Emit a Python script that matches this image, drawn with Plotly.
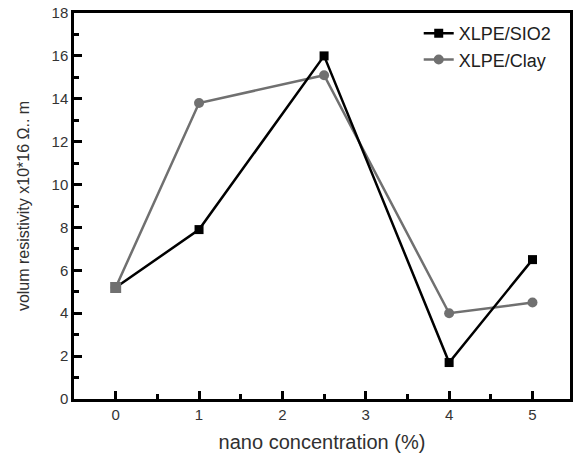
import plotly.graph_objects as go

x_vals = [0, 1, 2.5, 4, 5]
sio2 = [5.2, 7.9, 16.0, 1.7, 6.5]
clay = [5.2, 13.8, 15.1, 4.0, 4.5]
x_ticks = [0, 1, 2, 3, 4, 5]
y_ticks = [0, 2, 4, 6, 8, 10, 12, 14, 16, 18]

gray = "#707070"
font_family = "Liberation Sans, Arial"
fig = go.Figure()
fig.add_trace(go.Scatter(x=x_vals, y=clay, name="XLPE/Clay", mode="lines+markers",
                         line=dict(color=gray, width=2.5),
                         marker=dict(symbol="circle", size=10, color=gray)))
fig.add_trace(go.Scatter(x=x_vals, y=sio2, name="XLPE/SIO2", mode="lines+markers",
                         line=dict(color="black", width=2.5),
                         marker=dict(symbol="square", size=9, color="black")))
# shared starting point drawn in grey (overlapping markers)
fig.add_trace(go.Scatter(x=x_vals[:1], y=sio2[:1], mode="markers", showlegend=False,
                         marker=dict(symbol="square", size=11, color=gray)))

axis_common = dict(showgrid=False, zeroline=False, showline=True, linecolor="black",
                   linewidth=2.5, mirror=True, ticks="inside", tickwidth=2.5,
                   ticklen=8, tickcolor="black",
                   tickfont=dict(family=font_family, size=15, color="#333333"))

fig.update_xaxes(range=[-0.5, 5.45], tickvals=x_ticks,
                 minor=dict(dtick=0.5, ticks="inside", ticklen=5, tickwidth=2.5, tickcolor="black"),
                 title=dict(text="nano concentration (%)",
                            font=dict(family=font_family, size=20, color="#303030"),
                            standoff=14),
                 **axis_common)
fig.update_yaxes(range=[0, 18], tickvals=y_ticks,
                 minor=dict(dtick=1, ticks="inside", ticklen=5, tickwidth=2.5, tickcolor="black"),
                 title=dict(text="volum resistivity x10*16 Ω.. m",
                            font=dict(family=font_family, size=16, color="#303030"),
                            standoff=18),
                 **axis_common)

fig.update_layout(width=576, height=455, margin=dict(l=74, r=3, t=13, b=56),
                  plot_bgcolor="white", paper_bgcolor="white",
                  legend=dict(x=0.695, y=0.995, xanchor="left", yanchor="top",
                              traceorder="reversed",
                              font=dict(family=font_family, size=18, color="#202020"),
                              bgcolor="rgba(0,0,0,0)", tracegroupgap=0))
fig.write_html("out.html")
